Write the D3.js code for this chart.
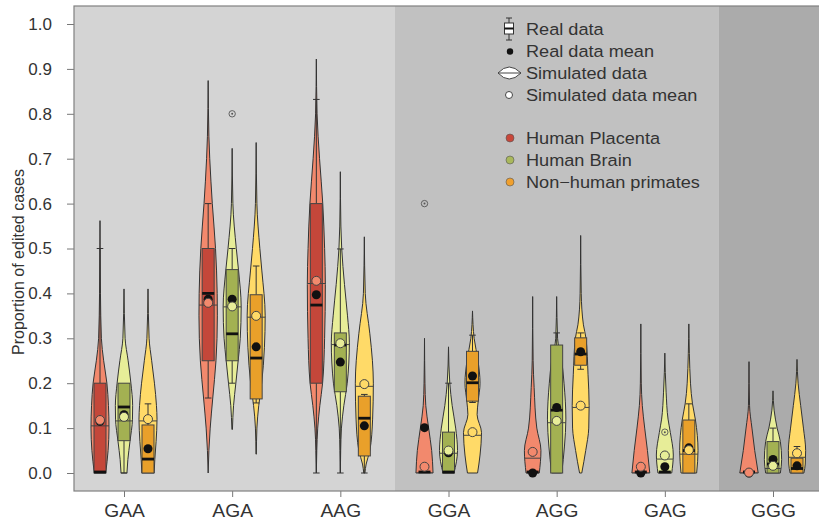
<!DOCTYPE html>
<html>
<head>
<meta charset="utf-8">
<title></title>
<script src="https://cdn.jsdelivr.net/npm/d3@7"></script>
<style>
    * { margin: 0; padding: 0; }
    body { background: #fff; }
    text { font-family: "Liberation Sans", Arial, sans-serif; fill: #333; }
</style>
</head>
<body>
<div id="chart"></div>
<script>
// categories
var groups = ["GAA", "AGA", "AAG", "GGA", "AGG", "GAG", "GGG"];
var series = ["Human Placenta", "Human Brain", "Non\u2212human primates"];
var yTicks = [0, 0.1, 0.2, 0.3, 0.4, 0.5, 0.6, 0.7, 0.8, 0.9, 1.0];
var panelSpans = [["GAA", "AAG"], ["GGA", "GAG"], ["GGG", "GGG"]];

// simulated data violins: [value, relative density]
var placentaViolin = [
    [[0.562, 0], [0.4, 0.05], [0.3, 0.15], [0.25, 0.4], [0.2, 0.75], [0.15, 0.92], [0.1, 0.98], [0.05, 0.88], [0, 0.62]],
    [[0.874, 0], [0.75, 0.08], [0.65, 0.3], [0.6, 0.45], [0.5, 0.8], [0.4, 0.98], [0.35, 1], [0.25, 0.85], [0.167, 0.5], [0.1, 0.22], [0.05, 0.08], [0, 0]],
    [[0.922, 0], [0.8, 0.08], [0.7, 0.35], [0.6, 0.7], [0.5, 0.9], [0.42, 0.98], [0.3, 0.9], [0.2, 0.68], [0.15, 0.38], [0.1, 0.15], [0.05, 0.05], [0, 0]],
    [[0.3, 0], [0.2, 0.05], [0.15, 0.14], [0.1, 0.45], [0.05, 0.78], [0, 0.93]],
    [[0.393, 0], [0.25, 0.05], [0.19, 0.16], [0.1, 0.45], [0.05, 0.9], [0, 0.72]],
    [[0.332, 0], [0.2, 0.05], [0.15, 0.16], [0.1, 0.42], [0.05, 0.72], [0, 0.97]],
    [[0.248, 0], [0.15, 0.06], [0.1, 0.32], [0.05, 0.62], [0, 1]]
];
var brainViolin = [
    [[0.41, 0], [0.3, 0.12], [0.25, 0.45], [0.2, 0.75], [0.15, 0.94], [0.12, 0.92], [0.07, 0.65], [0.03, 0.42], [0, 0.32]],
    [[0.723, 0], [0.6, 0.08], [0.5, 0.45], [0.45, 0.7], [0.37, 0.98], [0.3, 0.88], [0.25, 0.65], [0.2, 0.4], [0.15, 0.15], [0.097, 0.03]],
    [[0.671, 0], [0.55, 0.06], [0.5, 0.15], [0.42, 0.45], [0.35, 0.78], [0.29, 0.98], [0.2, 0.75], [0.15, 0.38], [0.1, 0.12], [0.05, 0.04], [0, 0]],
    [[0.281, 0], [0.2, 0.14], [0.15, 0.4], [0.1, 0.78], [0.05, 0.98], [0, 0.6]],
    [[0.393, 0], [0.3, 0.1], [0.25, 0.55], [0.2, 0.8], [0.12, 1], [0.06, 0.85], [0, 0.55]],
    [[0.267, 0], [0.18, 0.14], [0.12, 0.35], [0.09, 0.6], [0.04, 0.92], [0, 0.75]],
    [[0.183, 0], [0.14, 0.12], [0.1, 0.45], [0.07, 0.8], [0.03, 0.94], [0, 0.8]]
];
var primateViolin = [
    [[0.41, 0], [0.3, 0.12], [0.25, 0.4], [0.2, 0.7], [0.15, 0.92], [0.12, 0.98], [0.07, 0.88], [0.03, 0.74], [0, 0.67]],
    [[0.736, 0], [0.6, 0.08], [0.5, 0.4], [0.45, 0.62], [0.35, 0.98], [0.28, 0.9], [0.2, 0.6], [0.15, 0.28], [0.1, 0.08], [0.042, 0.02]],
    [[0.526, 0], [0.4, 0.1], [0.31, 0.6], [0.25, 0.88], [0.2, 0.98], [0.12, 0.9], [0.05, 0.6], [0.02, 0.2], [0, 0.06]],
    [[0.361, 0], [0.3, 0.18], [0.25, 0.6], [0.2, 0.82], [0.16, 0.62], [0.13, 0.5], [0.09, 0.98], [0.04, 0.82], [0, 0.55]],
    [[0.529, 0], [0.4, 0.06], [0.33, 0.3], [0.3, 0.58], [0.22, 0.8], [0.15, 0.92], [0.1, 0.88], [0.05, 0.55], [0, 0.12]],
    [[0.332, 0], [0.2, 0.18], [0.154, 0.4], [0.118, 0.72], [0.05, 1], [0, 0.85]],
    [[0.253, 0], [0.2, 0.12], [0.15, 0.4], [0.1, 0.7], [0.05, 0.94], [0.02, 0.9], [0, 0.75]]
];

// real data boxplots: [lower whisker, q1, median, q3, upper whisker]
var placentaBox = [[0, 0, 0, 0.2, 0.5], [0.167, 0.25, 0.4, 0.5, 0.6], [0, 0.2, 0.374, 0.6, 0.832], [0, 0, 0, 0, 0], [0, 0, 0, 0, 0], [0, 0, 0, 0, 0], [0, 0, 0, 0, 0]];
var brainBox = [[0, 0.072, 0.147, 0.2, 0.2], [0.2, 0.25, 0.31, 0.453, 0.5], [0, 0.181, 0.285, 0.312, 0.499], [0, 0, 0, 0.091, 0.2], [0, 0, 0.14, 0.285, 0.312], [0, 0, 0, 0, 0], [0, 0, 0.02, 0.07, 0.1]];
var primateBox = [[0, 0, 0.031, 0.107, 0.154], [0.156, 0.165, 0.256, 0.397, 0.461], [0, 0.038, 0.122, 0.171, 0.175], [0.157, 0.16, 0.201, 0.271, 0.307], [0.231, 0.24, 0.265, 0.301, 0.312], [0, 0, 0.05, 0.118, 0.154], [0, 0, 0.01, 0.033, 0.059]];

var placentaRealMean = [0.115, 0.387, 0.397, 0.101, 0, 0, 0];
var brainRealMean = [0.13, 0.387, 0.247, 0.045, 0.146, 0.014, 0.03];
var primateRealMean = [0.054, 0.281, 0.105, 0.216, 0.27, 0.056, 0.016];

var placentaSimMean = [0.118, 0.379, 0.428, 0.014, 0.047, 0.014, 0.001];
var brainSimMean = [0.125, 0.371, 0.289, 0.05, 0.116, 0.039, 0.016];
var primateSimMean = [0.12, 0.35, 0.198, 0.091, 0.15, 0.051, 0.044];

var placentaSimMedian = [0.105, 0.374, 0.422, 0, 0.033, 0, 0];
var brainSimMedian = [0.116, 0.37, 0.286, 0.044, 0.112, 0.031, 0.01];
var primateSimMedian = [0.116, 0.347, 0.193, 0.084, 0.146, 0.042, 0.035];

var outliers = [["AGA", 1, 0.8], ["GGA", 0, 0.6], ["GAG", 1, 0.091]];

var violins = [placentaViolin, brainViolin, primateViolin];
var boxes = [placentaBox, brainBox, primateBox];
var realMeans = [placentaRealMean, brainRealMean, primateRealMean];
var simMeans = [placentaSimMean, brainSimMean, primateSimMean];
var simMedians = [placentaSimMedian, brainSimMedian, primateSimMedian];

var lightColor = ["#f2896d", "#e7ed98", "#ffda68"];
var darkColor = ["#c4473a", "#a3b152", "#e9a02a"];
var keyColor = ["#c8473a", "#a9b85c", "#f0a02e"];
var panelColor = ["#d4d4d4", "#c1c1c1", "#ababab"];

var width = 819, height = 522;
var plot = { left: 74, top: 6, right: 850, bottom: 491 };

var svg = d3.select("#chart").append("svg")
    .attr("width", width)
    .attr("height", height);

var x = d3.scalePoint().domain(groups).range([124, 773]);
var xs = d3.scalePoint().domain(d3.range(series.length)).range([-24, 24]);
var y = d3.scaleLinear().domain([0, 1]).range([473, 24]);
var w = d3.scaleLinear().domain([0, 1]).range([0, 9.2]);
var step = x.step();

svg.append("clipPath").attr("id", "plotclip")
    .append("rect")
    .attr("x", plot.left).attr("y", plot.top)
    .attr("width", plot.right - plot.left).attr("height", plot.bottom - plot.top);

var back = svg.append("g").attr("clip-path", "url(#plotclip)");
back.selectAll("rect")
    .data(panelSpans)
    .enter().append("rect")
    .attr("x", function (d) { return x(d[0]) - step / 2; })
    .attr("y", plot.top)
    .attr("width", function (d) { return x(d[1]) - x(d[0]) + step; })
    .attr("height", plot.bottom - plot.top)
    .attr("fill", function (d, i) { return panelColor[i]; });

// axes
var yAxis = svg.append("g")
    .attr("transform", "translate(" + plot.left + ",0)")
    .call(d3.axisLeft(y).tickValues(yTicks).tickFormat(d3.format(".1f")).tickSize(7).tickPadding(15));
yAxis.select(".domain").remove();
yAxis.selectAll("line").attr("stroke", "#777");
yAxis.selectAll("text").attr("font-size", "17px").attr("fill", "#333")
    .attr("font-family", "Liberation Sans, Arial, sans-serif");

var xAxis = svg.append("g")
    .attr("transform", "translate(0," + plot.bottom + ")")
    .call(d3.axisBottom(x).tickSize(6).tickPadding(8));
xAxis.select(".domain").remove();
xAxis.selectAll("line").attr("stroke", "#777");
xAxis.selectAll("text").attr("font-size", "17.5px").attr("fill", "#333")
    .attr("font-family", "Liberation Sans, Arial, sans-serif")
    .attr("transform", "scale(1.1,1)");

svg.append("text")
    .attr("transform", "translate(24,262) rotate(-90)")
    .attr("text-anchor", "middle")
    .attr("font-size", "16px")
    .text("Proportion of edited cases");

// violins and boxes
var marks = svg.append("g").attr("clip-path", "url(#plotclip)");

groups.forEach(function (g, gi) {
    series.forEach(function (s, si) {
        var cx = x(g) + xs(si);
        var prof = violins[si][gi];
        var area = d3.area()
            .curve(d3.curveMonotoneY)
            .y(function (d) { return y(d[0]); })
            .x0(function (d) { return cx - w(d[1]); })
            .x1(function (d) { return cx + w(d[1]); });
        var id = "v" + gi + "_" + si;
        svg.append("clipPath").attr("id", id).append("path").attr("d", area(prof));

        var vg = marks.append("g");
        vg.append("path")
            .attr("d", area(prof))
            .attr("fill", lightColor[si])
            .attr("stroke", "#333")
            .attr("stroke-width", 1);

        var b = boxes[si][gi];
        // whiskers
        vg.append("line")
            .attr("x1", cx).attr("x2", cx)
            .attr("y1", y(b[3])).attr("y2", y(b[4]))
            .attr("stroke", "#333").attr("stroke-width", 1);
        vg.append("line")
            .attr("x1", cx).attr("x2", cx)
            .attr("y1", y(b[0])).attr("y2", y(b[1]))
            .attr("stroke", "#333").attr("stroke-width", 1);
        [b[0], b[4]].forEach(function (v, k) {
            if (v !== b[k === 0 ? 1 : 3]) {
                vg.append("line")
                    .attr("x1", cx - 3.3).attr("x2", cx + 3.3)
                    .attr("y1", y(v)).attr("y2", y(v))
                    .attr("stroke", "#333").attr("stroke-width", 1);
            }
        });
        if (b[3] > b[1]) {
            vg.append("rect")
                .attr("x", cx - 6)
                .attr("y", y(b[3]))
                .attr("width", 12)
                .attr("height", y(b[1]) - y(b[3]))
                .attr("fill", darkColor[si])
                .attr("stroke", "#444")
                .attr("stroke-width", 1);
        }
        // simulated median line
        vg.append("line")
            .attr("clip-path", "url(#" + id + ")")
            .attr("x1", cx - 12).attr("x2", cx + 12)
            .attr("y1", y(simMedians[si][gi])).attr("y2", y(simMedians[si][gi]))
            .attr("stroke", "#444").attr("stroke-width", 1);
        // real median
        vg.append("line")
            .attr("x1", cx - 6).attr("x2", cx + 6)
            .attr("y1", y(b[2]) - (b[2] === 0 ? 1 : 0)).attr("y2", y(b[2]) - (b[2] === 0 ? 1 : 0))
            .attr("stroke", "#111").attr("stroke-width", 2.8);
        // real mean
        vg.append("circle")
            .attr("cx", cx).attr("cy", y(realMeans[si][gi]))
            .attr("r", 4.5)
            .attr("fill", "#111");
        // simulated mean
        vg.append("circle")
            .attr("cx", cx).attr("cy", y(simMeans[si][gi]))
            .attr("r", 4.5)
            .attr("fill", lightColor[si])
            .attr("stroke", "#444")
            .attr("stroke-width", 1);
    });
});

// outliers
var out = marks.selectAll(".out")
    .data(outliers)
    .enter().append("g")
    .attr("transform", function (d) { return "translate(" + (x(d[0]) + xs(d[1])) + "," + y(d[2]) + ")"; });
out.append("circle").attr("r", 3.2).attr("fill", "none").attr("stroke", "#555").attr("stroke-width", 0.9);
out.append("circle").attr("r", 1).attr("fill", "#555");

// frame
svg.append("rect")
    .attr("x", plot.left).attr("y", plot.top)
    .attr("width", plot.right - plot.left).attr("height", plot.bottom - plot.top)
    .attr("fill", "none")
    .attr("stroke", "#808080")
    .attr("stroke-width", 1.2);

// legend
var leg = svg.append("g");
var lx = 509, tx = 526;
// boxplot key
leg.append("line").attr("x1", lx).attr("x2", lx).attr("y1", 18).attr("y2", 40).attr("stroke", "#333");
leg.append("line").attr("x1", lx - 3).attr("x2", lx + 3).attr("y1", 18).attr("y2", 18).attr("stroke", "#333");
leg.append("line").attr("x1", lx - 3).attr("x2", lx + 3).attr("y1", 40).attr("y2", 40).attr("stroke", "#333");
leg.append("rect").attr("x", lx - 4.5).attr("y", 23).attr("width", 9).attr("height", 11)
    .attr("fill", "#fff").attr("stroke", "#333");
leg.append("line").attr("x1", lx - 4.5).attr("x2", lx + 4.5).attr("y1", 28.5).attr("y2", 28.5)
    .attr("stroke", "#111").attr("stroke-width", 2);
leg.append("circle").attr("cx", lx + 1).attr("cy", 51.5).attr("r", 3.2).attr("fill", "#111");
leg.append("path").attr("d", "M498,73 Q509,61 521,73 Q509,85 498,73 Z")
    .attr("fill", "#fff").attr("stroke", "#444");
leg.append("line").attr("x1", 498).attr("x2", 521).attr("y1", 73).attr("y2", 73).attr("stroke", "#444");
leg.append("circle").attr("cx", lx).attr("cy", 95).attr("r", 3.5).attr("fill", "#fff").attr("stroke", "#444");

var keyText = ["Real data", "Real data mean", "Simulated data", "Simulated data mean"];
var keyY = [29, 51.5, 73, 95];
leg.selectAll(".kt")
    .data(keyText)
    .enter().append("text")
    .attr("transform", function (d, i) { return "translate(" + tx + "," + keyY[i] + ") scale(1.1,1)"; })
    .attr("dy", "0.35em")
    .attr("font-size", "16.5px")
    .text(function (d) { return d; });

var serY = [138, 160, 182];
leg.selectAll(".sd")
    .data(series)
    .enter().append("circle")
    .attr("cx", lx + 1).attr("cy", function (d, i) { return serY[i]; })
    .attr("r", 4)
    .attr("fill", function (d, i) { return keyColor[i]; })
    .attr("stroke", "#555").attr("stroke-width", 0.6);
leg.selectAll(".st")
    .data(series)
    .enter().append("text")
    .attr("transform", function (d, i) { return "translate(" + tx + "," + serY[i] + ") scale(1.1,1)"; })
    .attr("dy", "0.35em")
    .attr("font-size", "16.5px")
    .text(function (d) { return d; });
</script>
</body>
</html>
